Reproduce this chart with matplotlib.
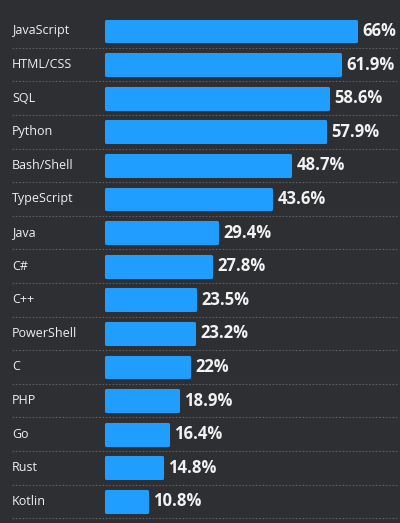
import matplotlib
matplotlib.use("Agg")
import matplotlib.pyplot as plt
import matplotlib.transforms as mtransforms

languages = ["JavaScript", "HTML/CSS", "SQL", "Python", "Bash/Shell", "TypeScript",
             "Java", "C#", "C++", "PowerShell", "C", "PHP", "Go", "Rust", "Kotlin"]
shares = [66, 61.9, 58.6, 57.9, 48.7, 43.6, 29.4, 27.8, 23.5, 23.2, 22, 18.9, 16.4, 14.8, 10.8]
share_labels = ["66%", "61.9%", "58.6%", "57.9%", "48.7%", "43.6%", "29.4%", "27.8%",
                "23.5%", "23.2%", "22%", "18.9%", "16.4%", "14.8%", "10.8%"]

BG = "#2d2f32"
BAR = "#1f9eff"

plt.rcParams["font.family"] = ["Open Sans", "DejaVu Sans"]

fig = plt.figure(figsize=(4.0, 5.23), dpi=100, facecolor=BG)
ax = fig.add_axes([0, 0, 1, 1], facecolor=BG)

# pixel layout: bars start at x=106, 66% reaches x=356; first row centre y=31, pitch 33.6
px_per_unit = 250 / 66
ax.set_xlim(-106 / px_per_unit, (400 - 106) / px_per_unit)
ax.set_ylim((523 - 31) / 33.6, -31 / 33.6)
ax.axis("off")

rows = list(range(len(languages)))
ax.barh(rows, shares, height=0.62, color=BAR, edgecolor=BAR, linewidth=2.2,
        joinstyle="round")

trans = mtransforms.blended_transform_factory(ax.transAxes, ax.transData)
for i, (name, val, lab) in enumerate(zip(languages, shares, share_labels)):
    ax.text(0.03, i, name, transform=trans, color="#f0f0f0", fontsize=9,
            va="center", ha="left")
    ax.annotate(lab, (val, i), xytext=(4.5, 0), textcoords="offset points",
                color="#f2f2f2", fontsize=12, fontweight="bold", va="center", ha="left")
    ax.plot([0.03, 0.995], [i + 0.5, i + 0.5], transform=trans, color="#5e5f62",
            linewidth=0.8, linestyle=(0, (1.5, 1.5)))

fig.savefig("out.png", dpi=100, facecolor=BG)
